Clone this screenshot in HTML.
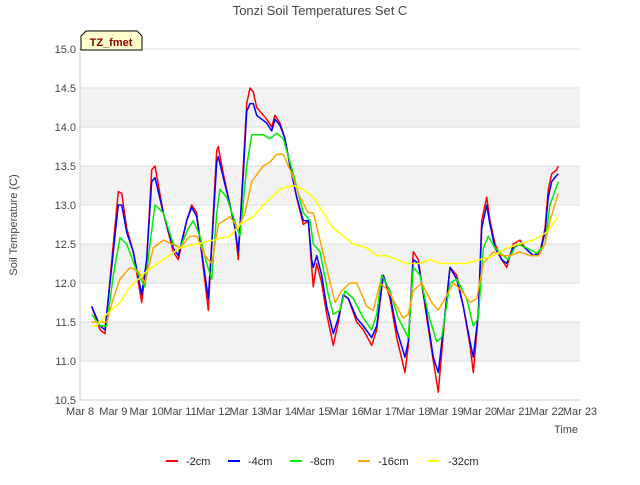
<!DOCTYPE html>
<html><head><meta charset="utf-8"><style>
body{margin:0;background:#fff;font-family:"Liberation Sans",sans-serif}
</style></head><body>
<svg id="c" width="640" height="480" xmlns="http://www.w3.org/2000/svg" font-family="Liberation Sans, sans-serif">
<rect width="640" height="480" fill="#fff"/>
<text x="320" y="15" text-anchor="middle" font-size="13" fill="#444">Tonzi Soil Temperatures Set C</text>
<g id="grid"></g>
<g id="series"></g>
<g id="axes"></g>
<text x="578" y="433" text-anchor="end" font-size="11" fill="#444">Time</text>
<text transform="translate(17,225) rotate(-90)" text-anchor="middle" font-size="11" fill="#444">Soil Temperature (C)</text>
<g>
<path d="M81,50 L81,36 L86,31 L137,31 L142,36 L142,50 Z" fill="#ffffcc" stroke="#000" stroke-width="1"/>
<text x="111" y="46" text-anchor="middle" font-size="11" font-weight="bold" fill="#8b0000">TZ_fmet</text>
</g>
<g id="legend"></g>
</svg>
<script>
const yTicks=[10.5,11.0,11.5,12.0,12.5,13.0,13.5,14.0,14.5,15.0];
const xTickLabels=["Mar 8","Mar 9","Mar 10","Mar 11","Mar 12","Mar 13","Mar 14","Mar 15","Mar 16","Mar 17","Mar 18","Mar 19","Mar 20","Mar 21","Mar 22","Mar 23"];
const seriesNames=["-2cm","-4cm","-8cm","-16cm","-32cm"];
const seriesColors=["#ff0000","#0000ff","#00ee00","#ffa500","#ffff00"];
const t2=[8.35,8.6,8.75,9.0,9.15,9.25,9.4,9.6,9.85,10.0,10.15,10.25,10.5,10.8,10.95,11.2,11.35,11.5,11.7,11.85,12.0,12.1,12.15,12.3,12.5,12.65,12.75,12.9,13.0,13.1,13.2,13.3,13.6,13.75,13.85,14.0,14.15,14.3,14.5,14.7,14.85,14.95,15.0,15.1,15.25,15.4,15.6,15.75,15.9,16.05,16.3,16.5,16.75,16.9,17.1,17.3,17.5,17.75,17.85,18.0,18.15,18.35,18.6,18.75,18.95,19.1,19.3,19.5,19.7,19.8,19.95,20.05,20.2,20.3,20.45,20.65,20.8,21.0,21.2,21.35,21.6,21.8,21.95,22.05,22.15,22.3,22.35];
const v2=[11.7,11.4,11.35,12.5,13.17,13.15,12.7,12.4,11.75,12.3,13.45,13.5,12.9,12.4,12.3,12.8,13.0,12.9,12.2,11.65,12.9,13.7,13.75,13.4,13.0,12.7,12.3,13.5,14.3,14.5,14.45,14.25,14.1,14.0,14.15,14.05,13.85,13.5,13.1,12.75,12.8,12.2,11.95,12.25,12.0,11.6,11.2,11.5,11.85,11.8,11.5,11.4,11.2,11.4,12.1,11.8,11.3,10.85,11.2,12.4,12.3,11.7,11.0,10.6,11.6,12.2,12.1,11.7,11.2,10.85,11.6,12.8,13.1,12.8,12.5,12.3,12.2,12.5,12.55,12.45,12.35,12.4,12.7,13.2,13.4,13.45,13.5];
const v4=[11.7,11.45,11.4,12.4,13.0,13.0,12.65,12.4,11.85,12.3,13.3,13.35,12.9,12.45,12.35,12.8,12.97,12.85,12.25,11.8,12.8,13.55,13.62,13.35,13.0,12.7,12.4,13.4,14.2,14.3,14.3,14.15,14.05,13.95,14.1,14.02,13.85,13.5,13.1,12.8,12.8,12.3,12.2,12.35,12.1,11.7,11.35,11.55,11.85,11.8,11.55,11.45,11.3,11.45,12.1,11.85,11.4,11.05,11.25,12.3,12.25,11.75,11.05,10.85,11.6,12.2,12.05,11.7,11.25,11.05,11.6,12.7,13.0,12.75,12.45,12.3,12.25,12.45,12.5,12.45,12.35,12.38,12.65,13.1,13.3,13.38,13.4];
const t8=[8.35,8.6,8.8,9.0,9.2,9.4,9.7,9.95,10.1,10.25,10.5,10.8,11.0,11.25,11.4,11.6,11.8,11.95,12.1,12.2,12.4,12.6,12.8,13.0,13.15,13.5,13.7,13.9,14.1,14.4,14.7,14.9,15.0,15.2,15.45,15.6,15.8,15.95,16.2,16.5,16.75,16.9,17.05,17.3,17.55,17.85,18.0,18.2,18.45,18.7,18.85,19.1,19.3,19.6,19.8,19.95,20.1,20.25,20.45,20.7,20.85,21.1,21.4,21.7,21.95,22.1,22.35];
const v8=[11.6,11.45,11.45,12.1,12.58,12.5,12.15,11.95,12.5,13.0,12.9,12.5,12.45,12.7,12.8,12.6,12.25,12.05,12.9,13.2,13.1,12.85,12.6,13.5,13.9,13.9,13.85,13.92,13.85,13.4,12.9,12.8,12.5,12.4,11.85,11.6,11.65,11.9,11.8,11.55,11.4,11.6,12.1,11.9,11.55,11.3,12.2,12.1,11.6,11.25,11.3,12.0,12.05,11.8,11.45,11.55,12.45,12.6,12.45,12.35,12.3,12.5,12.45,12.38,12.5,13.0,13.3];
const t16=[8.35,8.6,8.8,9.0,9.2,9.5,9.75,9.95,10.2,10.5,10.75,11.0,11.3,11.5,11.75,11.95,12.15,12.5,12.75,12.95,13.15,13.5,13.7,13.9,14.1,14.35,14.6,14.85,15.0,15.2,15.45,15.65,15.85,16.1,16.3,16.6,16.8,17.0,17.25,17.5,17.7,17.85,18.0,18.25,18.55,18.75,18.95,19.2,19.45,19.7,19.9,20.1,20.4,20.7,20.9,21.2,21.5,21.75,21.95,22.1,22.35];
const v16=[11.5,11.5,11.5,11.8,12.05,12.2,12.15,12.0,12.45,12.55,12.5,12.45,12.6,12.6,12.35,12.25,12.75,12.85,12.7,12.9,13.3,13.5,13.55,13.65,13.65,13.4,13.1,12.9,12.9,12.55,12.1,11.75,11.9,12.0,12.0,11.7,11.65,12.0,11.9,11.7,11.55,11.6,11.9,12.0,11.75,11.65,11.8,12.0,11.9,11.75,11.8,12.25,12.4,12.35,12.35,12.4,12.35,12.35,12.5,12.8,13.15];
const t32=[8.35,8.5,8.8,9.2,9.5,10.0,10.5,11.0,11.5,12.0,12.5,12.8,13.2,13.5,14.0,14.4,14.7,15.0,15.3,15.6,15.9,16.2,16.6,16.9,17.2,17.5,17.8,18.2,18.5,18.8,19.2,19.6,20.0,20.4,20.8,21.2,21.6,22.0,22.35];
const v32=[11.45,11.45,11.6,11.75,11.95,12.15,12.3,12.45,12.5,12.55,12.6,12.75,12.85,13.0,13.2,13.25,13.2,13.1,12.9,12.7,12.6,12.5,12.45,12.35,12.35,12.3,12.25,12.25,12.3,12.25,12.25,12.25,12.3,12.35,12.45,12.5,12.55,12.65,12.85];
const L=80,R=580,T=49,B=400;
const X=t=>L+(t-8)*(R-L)/15;
const Y=v=>B-(v-10.5)*(B-T)/4.5;
const NS="http://www.w3.org/2000/svg";
function mk(tag,attrs,parent){const e=document.createElementNS(NS,tag);for(const k in attrs)e.setAttribute(k,attrs[k]);parent.appendChild(e);return e;}
const grid=document.getElementById('grid');
for(let i=0;i<yTicks.length-1;i++){
  const fill=(i%2===1)?'#f2f2f2':'#ffffff';
  mk('rect',{x:L,y:Y(yTicks[i+1]),width:R-L,height:Y(yTicks[i])-Y(yTicks[i+1]),fill:fill},grid);
}
yTicks.forEach(v=>{mk('line',{x1:L,x2:R,y1:Y(v),y2:Y(v),stroke:'#dddddd'},grid);});
const axes=document.getElementById('axes');
mk('line',{x1:L,x2:L,y1:T,y2:B,stroke:'#ccc'},axes);
mk('line',{x1:L,x2:R,y1:B,y2:B,stroke:'#ccc'},axes);
yTicks.forEach(v=>{const t=mk('text',{x:L-4,y:Y(v)+4,'text-anchor':'end','font-size':11,fill:'#444'},axes);t.textContent=v.toFixed(1);

});
xTickLabels.forEach((s,i)=>{const t=mk('text',{x:X(8+i),y:B+15,'text-anchor':'middle','font-size':11,fill:'#444'},axes);t.textContent=s;

});
const ser=document.getElementById('series');
const data=[[t2,v2],[t2,v4],[t8,v8],[t16,v16],[t32,v32]];
data.forEach((d,i)=>{const pts=d[0].map((t,j)=>X(t).toFixed(1)+','+Y(d[1][j]).toFixed(1)).join(' ');
const p=mk('polyline',{points:pts,fill:'none',stroke:seriesColors[i],'stroke-width':1.5,'stroke-linejoin':'round'},ser);

});
const lg=document.getElementById('legend');
const lx=[166,228,290,358,428];
seriesNames.forEach((n,i)=>{const g=mk('g',{},lg);


mk('line',{x1:lx[i],x2:lx[i]+12,y1:461,y2:461,stroke:seriesColors[i],'stroke-width':2},g);
const t=mk('text',{x:lx[i]+20,y:465,'font-size':11,fill:'#222'},g);t.textContent=n;});
</script>
</body></html>
